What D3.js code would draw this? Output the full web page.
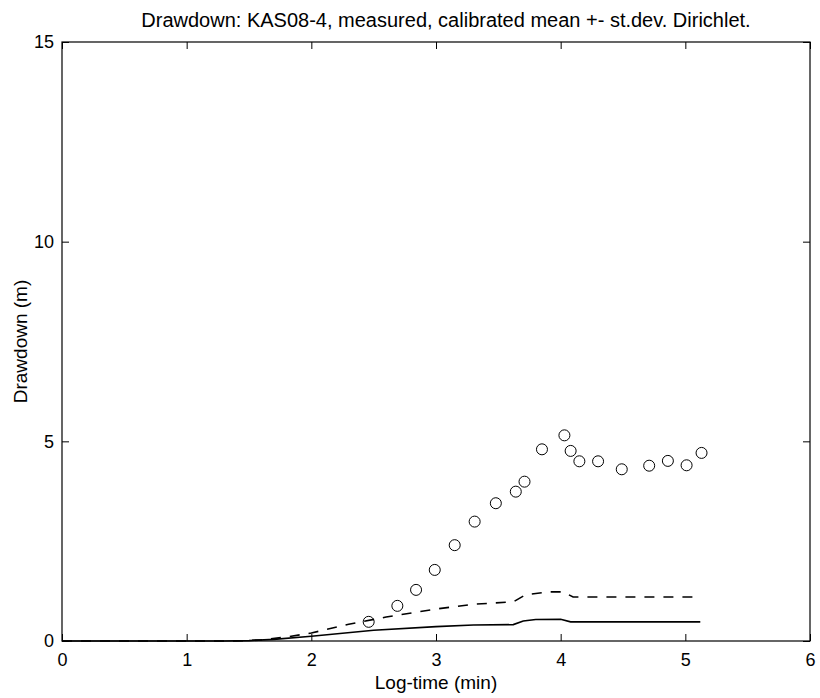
<!DOCTYPE html>
<html>
<head>
<meta charset="utf-8">
<script src="https://cdn.jsdelivr.net/npm/d3@7"></script>
<style>
  body { margin: 0; background: #fff; }
  svg { font-family: "Liberation Sans", Arial, sans-serif; }
</style>
</head>
<body>
<svg id="chart"></svg>
<script>
// measured drawdown (log-time, m)
const measuredX = [2.46, 2.69, 2.84, 2.99, 3.15, 3.31, 3.48, 3.64, 3.71, 3.85, 4.03, 4.08, 4.15, 4.30, 4.49, 4.71, 4.86, 5.01, 5.13];
const measuredY = [0.48, 0.88, 1.28, 1.78, 2.40, 2.99, 3.45, 3.74, 3.99, 4.80, 5.15, 4.76, 4.50, 4.50, 4.30, 4.39, 4.51, 4.40, 4.71];

// calibrated mean (solid)
const meanX = [0, 1.3, 1.5, 1.7, 2.0, 2.5, 3.0, 3.3, 3.62, 3.7, 3.8, 4.0, 4.08, 5.12];
const meanY = [0, 0, 0.01, 0.04, 0.12, 0.27, 0.36, 0.40, 0.41, 0.50, 0.54, 0.545, 0.48, 0.48];

// mean + st.dev (dashed)
const upperX = [0, 1.4, 1.6, 1.8, 2.0, 2.3, 2.6, 3.0, 3.3, 3.62, 3.72, 3.9, 4.02, 4.1, 5.12];
const upperY = [0, 0, 0.03, 0.1, 0.2, 0.42, 0.6, 0.8, 0.92, 0.98, 1.16, 1.23, 1.23, 1.10, 1.10];

const xTicks = [0, 1, 2, 3, 4, 5, 6];
const yTicks = [0, 5, 10, 15];

const width = 820, height = 698;
const margin = {top: 42, right: 10, bottom: 57, left: 62};

const svg = d3.select('#chart')
    .attr('width', width)
    .attr('height', height);

const x = d3.scaleLinear().domain([0, 6]).range([margin.left, width - margin.right]);
const y = d3.scaleLinear().domain([0, 15]).range([height - margin.bottom, margin.top]);

// frame
svg.append('rect')
    .attr('x', x(0)).attr('y', y(15))
    .attr('width', x(6) - x(0)).attr('height', y(0) - y(15))
    .attr('fill', 'none').attr('stroke', '#000').attr('stroke-width', 1.2);

// ticks inside on all sides (matlab style)
const tickLen = 7;
const axBottom = svg.append('g').attr('transform', `translate(0,${y(0)})`)
    .call(d3.axisBottom(x).tickValues(xTicks).tickSize(-tickLen).tickPadding(12).tickFormat(d3.format('d')));
const axTop = svg.append('g').attr('transform', `translate(0,${y(15)})`)
    .call(d3.axisTop(x).tickValues(xTicks).tickSize(-tickLen).tickFormat(''));
const axLeft = svg.append('g').attr('transform', `translate(${x(0)},0)`)
    .call(d3.axisLeft(y).tickValues(yTicks).tickSize(-tickLen).tickPadding(8).tickFormat(d3.format('d')));
const axRight = svg.append('g').attr('transform', `translate(${x(6)},0)`)
    .call(d3.axisRight(y).tickValues(yTicks).tickSize(-tickLen).tickFormat(''));

[axBottom, axTop, axLeft, axRight].forEach(g => {
    g.select('.domain').remove();
    g.selectAll('text').attr('font-size', 18).attr('font-family', '"Liberation Sans", Arial, sans-serif').attr('fill', '#000');
});

const line = d3.line().x(d => x(d[0])).y(d => y(d[1]));

svg.append('path')
    .datum(d3.zip(meanX, meanY))
    .attr('d', line)
    .attr('fill', 'none').attr('stroke', '#000').attr('stroke-width', 1.6);

svg.append('path')
    .datum(d3.zip(upperX, upperY))
    .attr('d', line)
    .attr('fill', 'none').attr('stroke', '#000').attr('stroke-width', 1.6)
    .attr('stroke-dasharray', '10,9');

svg.append('g')
    .selectAll('circle')
    .data(d3.zip(measuredX, measuredY))
    .join('circle')
    .attr('cx', d => x(d[0]))
    .attr('cy', d => y(d[1]))
    .attr('r', 5.5)
    .attr('fill', 'none')
    .attr('stroke', '#000')
    .attr('stroke-width', 1);

// labels
svg.append('text')
    .attr('x', 446).attr('y', 27)
    .attr('text-anchor', 'middle').attr('font-size', 20)
    .text('Drawdown: KAS08-4, measured, calibrated mean +- st.dev. Dirichlet.');

svg.append('text')
    .attr('x', (x(0) + x(6)) / 2).attr('y', 689)
    .attr('text-anchor', 'middle').attr('font-size', 19)
    .text('Log-time (min)');

svg.append('text')
    .attr('transform', `translate(27,${(y(0) + y(15)) / 2}) rotate(-90)`)
    .attr('text-anchor', 'middle').attr('font-size', 19)
    .text('Drawdown (m)');
</script>
</body>
</html>
